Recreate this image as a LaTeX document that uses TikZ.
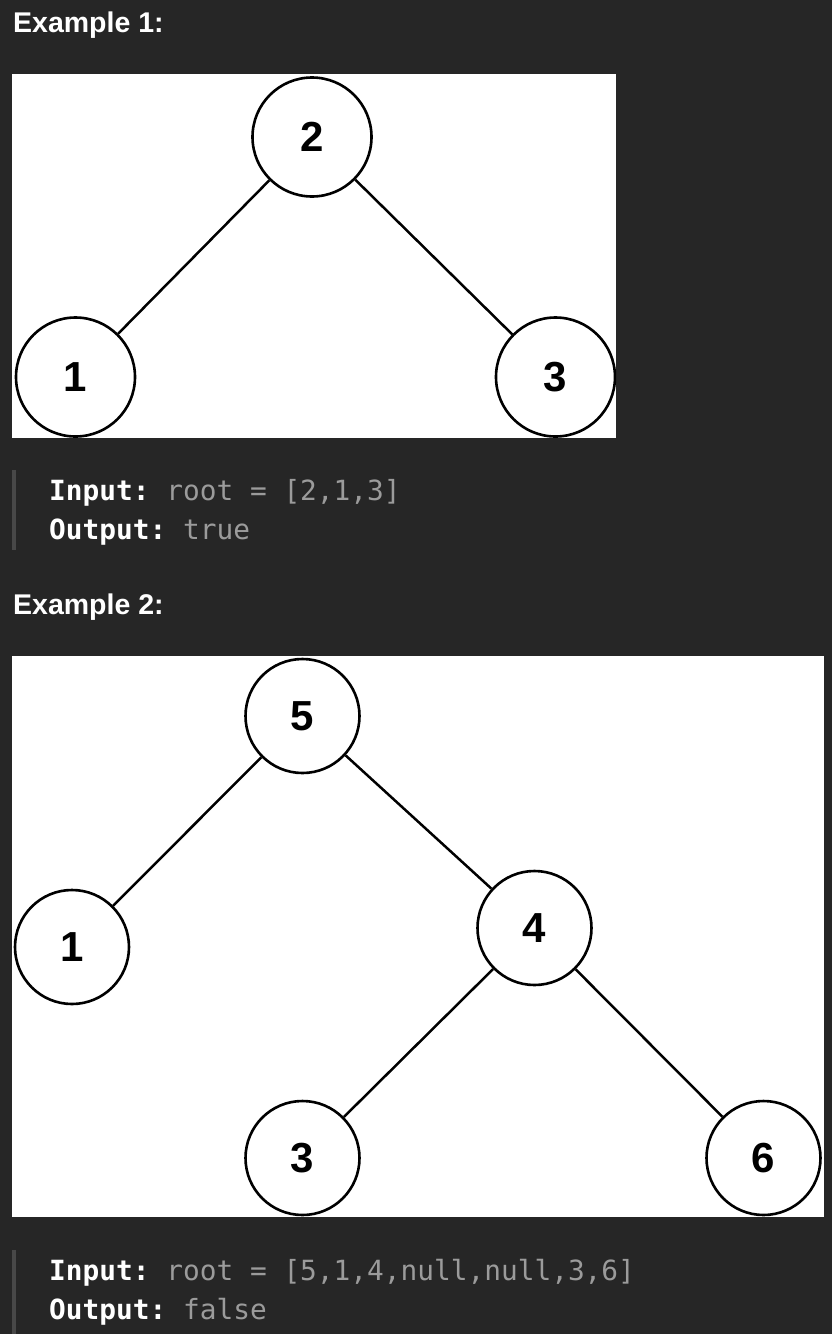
\documentclass[tikz,border=0pt]{standalone}
\usepackage{fontspec}
\setmainfont{Liberation Sans}
\newfontfamily\codefont{DejaVu Sans Mono}
\definecolor{bg}{RGB}{38,38,38}
\definecolor{codegray}{RGB}{155,155,155}
\definecolor{barcol}{RGB}{72,72,72}
\frenchspacing
\begin{document}
\begin{tikzpicture}[x=1pt,y=-1pt,
  tnode/.style={circle,draw=black,line width=2.6pt,fill=white,inner sep=0pt,font=\fontsize{42}{42}\selectfont\bfseries},
  bigtn/.style={tnode,minimum size=119pt},
  smalltn/.style={tnode,minimum size=114pt},
  edge/.style={draw=black,line width=2.5pt},
  heading/.style={anchor=base west,text=white,inner sep=0pt,font=\fontsize{28.5}{28.5}\selectfont\bfseries},
  code/.style={anchor=base west,text=white,inner sep=0pt,font=\codefont\fontsize{27.8}{27.8}\selectfont\frenchspacing},
  panel/.style={fill=white},
  quotebar/.style={fill=barcol}]
\useasboundingbox[fill=bg] (0,0) rectangle (832,1334);

% Example 1
\node[heading] (h1) at (13,32) {Example 1:};
\fill[panel] (12,74) rectangle (616,438);
\begin{scope}
\clip (12,74) rectangle (616,438);
\node[bigtn] (a2) at (312,137) {2};
\node[bigtn] (a1) at (75.5,377) {1};
\node[bigtn] (a3) at (555.5,377) {3};
\draw[edge] (a2) -- (a1);
\draw[edge] (a2) -- (a3);
\end{scope}
\fill[quotebar] (12,470) rectangle (16,550);
\node[code] (in1) at (49,500) {\textbf{Input:} \textcolor{codegray}{root = [2,1,3]}};
\node[code] (out1) at (49,539) {\textbf{Output:} \textcolor{codegray}{true}};

% Example 2
\node[heading] (h2) at (13,614) {Example 2:};
\fill[panel] (12,656) rectangle (824,1217);
\begin{scope}
\clip (12,656) rectangle (824,1217);
\node[smalltn] (b5) at (302.5,716) {5};
\node[smalltn] (b1) at (72,947) {1};
\node[smalltn] (b4) at (534.5,928) {4};
\node[smalltn] (b3) at (302.5,1158) {3};
\node[smalltn] (b6) at (763.5,1158) {6};
\draw[edge] (b5) -- (b1);
\draw[edge] (b5) -- (b4);
\draw[edge] (b4) -- (b3);
\draw[edge] (b4) -- (b6);
\end{scope}
\fill[quotebar] (12,1250) rectangle (16,1334);
\node[code] (in2) at (49,1280) {\textbf{Input:} \textcolor{codegray}{root = [5,1,4,null,null,3,6]}};
\node[code] (out2) at (49,1319) {\textbf{Output:} \textcolor{codegray}{false}};
\end{tikzpicture}
\end{document}
